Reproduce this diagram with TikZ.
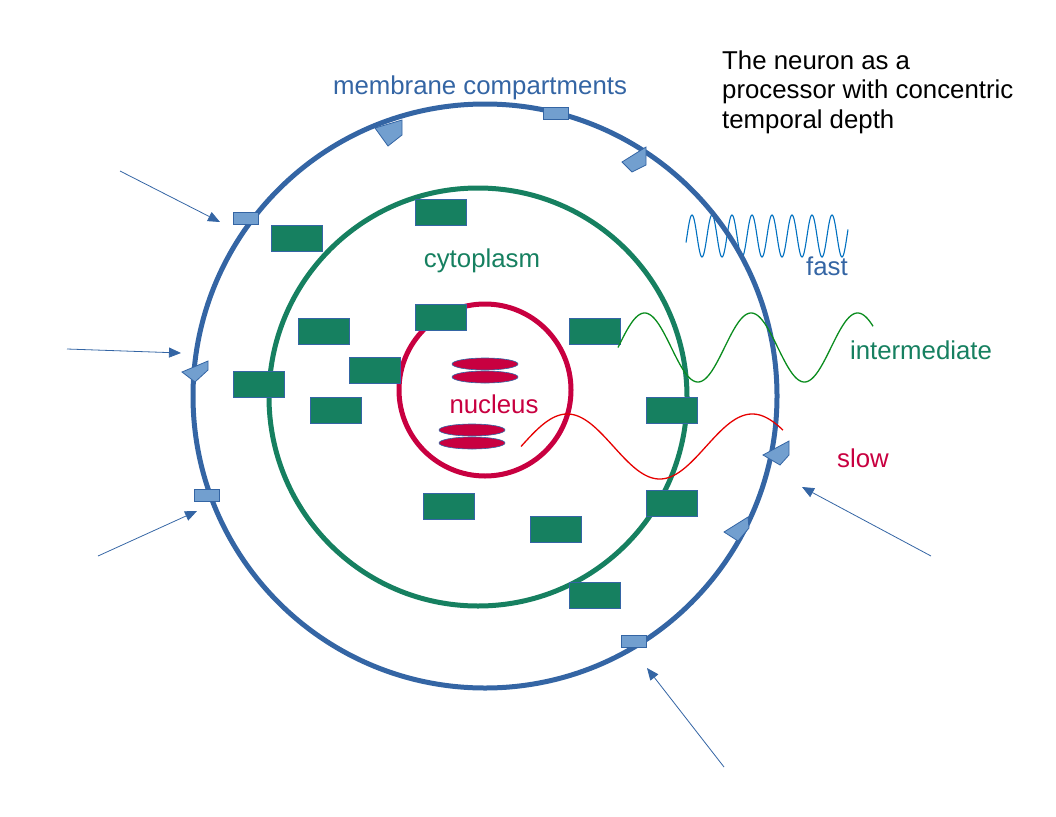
\documentclass[tikz,border=0pt]{standalone}
\usepackage{fontspec}
\setmainfont{Liberation Sans}
\usetikzlibrary{arrows.meta,shapes.geometric}
\definecolor{membraneblue}{RGB}{52,101,164}
\definecolor{chanblue}{RGB}{114,159,207}
\definecolor{cytogreen}{RGB}{22,128,96}
\definecolor{nucred}{RGB}{200,0,64}
\definecolor{fastblue}{RGB}{0,112,192}
\definecolor{midgreen}{RGB}{10,140,30}
\definecolor{slowred}{RGB}{230,0,0}
\tikzset{
  organelle/.style={draw=membraneblue, line width=0.8pt, fill=cytogreen, minimum width=51pt, minimum height=26pt, inner sep=0pt, anchor=north west},
  pore/.style={draw=membraneblue, line width=0.8pt, fill=chanblue, minimum width=25pt, minimum height=12pt, inner sep=0pt, anchor=north west},
  channel/.style={draw=membraneblue, line width=0.8pt, fill=chanblue},
  chrom/.style={ellipse, draw=membraneblue, line width=0.6pt, fill=nucred, minimum width=66pt, minimum height=12pt, inner sep=0pt},
  inarrow/.style={draw=membraneblue, line width=0.8pt, -{Triangle[length=12pt,width=10pt]}},
  lbl/.style={font=\fontsize{25.8pt}{30pt}\selectfont, inner sep=0pt, anchor=base},
  ttl/.style={font=\fontsize{25.8pt}{30pt}\selectfont, inner sep=0pt, anchor=base west},
}
\begin{document}
\begin{tikzpicture}[x=1pt,y=-1pt]
\useasboundingbox (0,0) rectangle (1056,816);
% fast wave (beneath membrane)
\draw[fastblue, line width=1.1pt] plot[domain=686:848, samples=400, smooth] (\x, {236-21*sin(18*(\x-687))});
% compartments
\node[circle, draw=membraneblue, line width=5pt, minimum size=584pt, inner sep=0pt] (membrane) at (485,396) {};
\node[circle, draw=cytogreen, line width=5pt, minimum size=418pt, inner sep=0pt] (cyto) at (478,397) {};
\node[circle, draw=nucred, line width=5pt, minimum size=172pt, inner sep=0pt] (nucleus) at (485,390) {};
% chromatin
\node[chrom] (ch1) at (485,364) {};
\node[chrom] (ch2) at (485,377) {};
\node[chrom] (ch3) at (472,430) {};
\node[chrom] (ch4) at (472,443) {};
% organelles
\node[organelle] (o1) at (271,225) {};
\node[organelle] (o2) at (415,199) {};
\node[organelle] (o3) at (298,318) {};
\node[organelle] (o4) at (415,304) {};
\node[organelle] (o5) at (569,318) {};
\node[organelle] (o6) at (349,357) {};
\node[organelle] (o7) at (233,371) {};
\node[organelle] (o8) at (310,397) {};
\node[organelle] (o9) at (646,397) {};
\node[organelle] (o10) at (423,493) {};
\node[organelle] (o11) at (530,516) {};
\node[organelle] (o12) at (646,490) {};
\node[organelle] (o13) at (569,582) {};
% membrane pores
\node[pore] (p1) at (233,212) {};
\node[pore] (p2) at (543,107) {};
\node[pore] (p3) at (194,489) {};
\node[pore] (p4) at (621,635) {};
% membrane channels
\filldraw[channel] (375,128) -- (402,120) -- (402,135) -- (388,146) -- cycle;
\filldraw[channel] (622,162) -- (646,147) -- (646,165) -- (632,172) -- cycle;
\filldraw[channel] (182,372) -- (208,361) -- (208,370) -- (195,382) -- cycle;
\filldraw[channel] (763,455) -- (789,441) -- (789,455) -- (780,465) -- cycle;
\filldraw[channel] (724,532) -- (748,517) -- (749,528) -- (738,541) -- cycle;
% waves
\draw[midgreen, line width=1.3pt] plot[domain=618:873, samples=400, smooth] (\x, {347.5-34.5*sin(3.3803*(\x-618))});
\draw[slowred, line width=1.3pt] plot[domain=521:783, samples=400, smooth] (\x, {446.5-32.5*sin(1.9459*(\x-521))});
% input arrows
\coordinate (a1s) at (120,171); \coordinate (a1e) at (220,222);
\coordinate (a2s) at (67,349);  \coordinate (a2e) at (181,353);
\coordinate (a3s) at (98,556);  \coordinate (a3e) at (197,511);
\coordinate (a4s) at (724,767); \coordinate (a4e) at (647,668);
\coordinate (a5s) at (931,556); \coordinate (a5e) at (802,487);
\draw[inarrow] (a1s) -- (a1e);
\draw[inarrow] (a2s) -- (a2e);
\draw[inarrow] (a3s) -- (a3e);
\draw[inarrow] (a4s) -- (a4e);
\draw[inarrow] (a5s) -- (a5e);
% labels
\node[lbl, text=membraneblue] (lmem) at (480,94) {membrane compartments};
\node[lbl, text=cytogreen] (lcyto) at (482,267) {cytoplasm};
\node[lbl, text=nucred] (lnuc) at (494,413) {nucleus};
\node[lbl, text=membraneblue] (lfast) at (827,275) {fast};
\node[lbl, text=cytogreen] (lmid) at (921,359) {intermediate};
\node[lbl, text=nucred] (lslow) at (863,467) {slow};
\node[ttl] (t1) at (722,69) {The neuron as a};
\node[ttl] (t2) at (722,98) {processor with concentric};
\node[ttl] (t3) at (722,128) {temporal depth};
\end{tikzpicture}
\end{document}
